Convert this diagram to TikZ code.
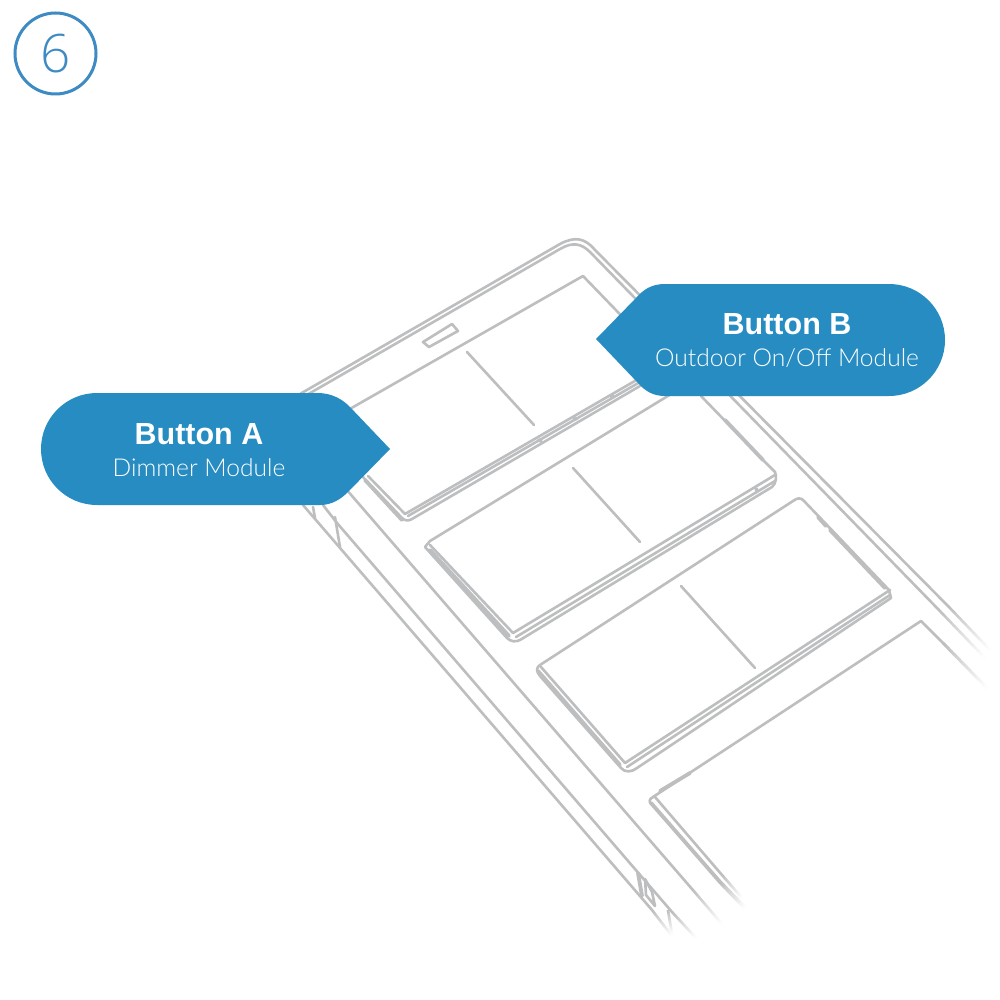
\documentclass[tikz,border=0pt]{standalone}
\usepackage{fontspec}
\setmainfont{Liberation Sans}
\newfontfamily\lightfont{Lato Light}
\newfontfamily\digitfont{Open Sans Light}
\definecolor{ln}{HTML}{BCBEC0}
\definecolor{bub}{HTML}{268CC1}
\definecolor{circ}{HTML}{3E8AC3}
\newcommand{\fadeline}[5]{%
  \foreach \i in {0,...,15}{%
    \pgfmathsetmacro{\pc}{100-\i*6.5}%
    \pgfmathsetmacro{\ta}{\i/16}%
    \pgfmathsetmacro{\tb}{(\i+1.1)/16}%
    \draw[line width=#5,color=ln!\pc!white]
      ({#1+(#3-#1)*\ta},{#2+(#4-#2)*\ta}) -- ({#1+(#3-#1)*\tb},{#2+(#4-#2)*\tb});
  }}
\begin{document}
\begin{tikzpicture}[x=1pt,y=-1pt,
  edge/.style={draw=ln,line width=2.6pt,line join=round,line cap=round},
  thick edge/.style={draw=ln,line width=3.8pt,line join=round,line cap=round},
  bubble/.style={fill=bub,draw=none},
  title/.style={text=white,font=\bfseries\fontsize{30.5}{32}\selectfont,anchor=center,inner sep=0pt},
  sub/.style={text=white,font=\lightfont\fontsize{24.6}{28}\selectfont,anchor=center,inner sep=0pt}]
\useasboundingbox (0,0) rectangle (1000,1000);
\fill[white] (0,0) rectangle (1000,1000);

% step circle
\node[circle,draw=circ,line width=3pt,minimum size=81pt,inner sep=0pt,text=circ,font=\digitfont\fontsize{53}{56}\selectfont] (six) at (55.5,53.5) {6};

% frame, right and top
\draw[edge] (300,394) -- (560,244) .. controls (575,236) and (585,238) .. (595,250) -- (948,606);
\draw[edge] (305,396) -- (560,249) .. controls (572,242) and (581,243) .. (590,252) -- (937,608);
\fadeline{948}{606}{990}{650}{2.6pt}
\fadeline{937}{608}{985}{658}{2.6pt}

% frame, left
\draw[edge] (346,489) -- (692,889);
\fadeline{692}{889}{722}{924}{2.6pt}
\draw[edge] (323,505) -- (337,523) -- (672,912);
\fadeline{672}{912}{696}{938}{2.6pt}
\draw[edge] (303,505) -- (652,910);
\fadeline{652}{910}{672}{936}{2.6pt}
\draw[edge] (313,507) -- (315,518);
\draw[edge] (335,517) -- (340,547);
\draw[thick edge] (638,873) -- (642,896);
\draw[edge] (645,879) -- (652,892) -- (655,906) -- (646,895) -- cycle;
\fadeline{668}{910}{672}{934}{2.6pt}

% panel 1
\draw[edge] (348,410) -- (583,276) -- (640,335);
\draw[edge] (362,476) -- (402,518) .. controls (405,521) and (409,521) .. (412,519) -- (640,386);
\draw[edge] (368,476) -- (405,514) -- (640,378);
\draw[edge] (408,516) -- (640,382);
\draw[thick edge] (365,480) -- (402,520);
\draw[edge] (467,352) -- (534,425);
\draw[edge] (423,342) -- (452,324) -- (458,331) -- (429,347) -- cycle;
\draw[thick edge] (539,440) -- (541,441);
\draw[thick edge] (574,418) -- (576,419);
\draw[thick edge] (611,396) -- (613,397);

% panel 2
\draw[edge] (676,391) -- (430,541) -- (425,547) -- (507,638) .. controls (511,642) and (516,642) .. (520,640) -- (772,487) .. controls (776,484) and (777,476) .. (775,472) -- (763,460);
\draw[edge] (430,545) -- (513,633) -- (775,475);
\draw[edge] (516,637) -- (775,481);
\draw[thick edge] (430,550) -- (509,636);
\draw[edge] (701,396) -- (763,460);
\draw[thick edge] (725,420) -- (763,460);
\draw[edge] (573,468) -- (640,542);
\draw[thick edge] (756,489) -- (757,490);

% panel 3
\draw[edge] (540,665) -- (793,501) .. controls (797,498) and (801,497) .. (804,501) -- (889,590) -- (891,598) -- (637,768) .. controls (632,772) and (625,773) .. (621,768) -- (540,676) .. controls (536,671) and (536,668) .. (540,665);
\draw[edge] (541,667) -- (625,763) -- (890,590);
\draw[edge] (627,767) -- (890,595);
\draw[thick edge] (538,671) -- (620,765);
\draw[thick edge] (830,530) -- (885,588);
\draw[thick edge] (818,517) -- (826,526);
\draw[edge] (681,586) -- (755,668);

% panel 4
\draw[edge] (653,797) -- (921,621) -- (943,643);
\fadeline{943}{643}{987}{688}{3pt}
\draw[thick edge] (660,791) -- (690,773);
\draw[edge] (655,797) -- (722,875);
\fadeline{722}{875}{742}{898}{2.6pt}
\draw[thick edge] (651,803) -- (720,882);
\fadeline{720}{882}{745}{908}{3.8pt}
\draw[edge] (653,797) .. controls (649,799) and (649,802) .. (651,804);

% callouts
\path[bubble] (97,393) -- (317,393) .. controls (332,393) and (342,399) .. (350,407) -- (390,449) -- (348,492) .. controls (341,499) and (332,505) .. (320,505) -- (97,505) arc[start angle=90,end angle=270,radius=56] -- cycle;
\path[bubble] (889,284) -- (665,284) .. controls (651,284) and (643,290) .. (636,298) -- (596,339) -- (638,383) .. controls (645,391) and (653,396) .. (665,396) -- (889,396) arc[start angle=90,end angle=-90,radius=56] -- cycle;
\node[title] (a) at (199,434) {Button A};
\node[sub] (am) at (199,468) {Dimmer Module};
\node[title] (b) at (787,324) {Button B};
\node[sub] (bm) at (787,358) {Outdoor On/Off Module};
\end{tikzpicture}
\end{document}
